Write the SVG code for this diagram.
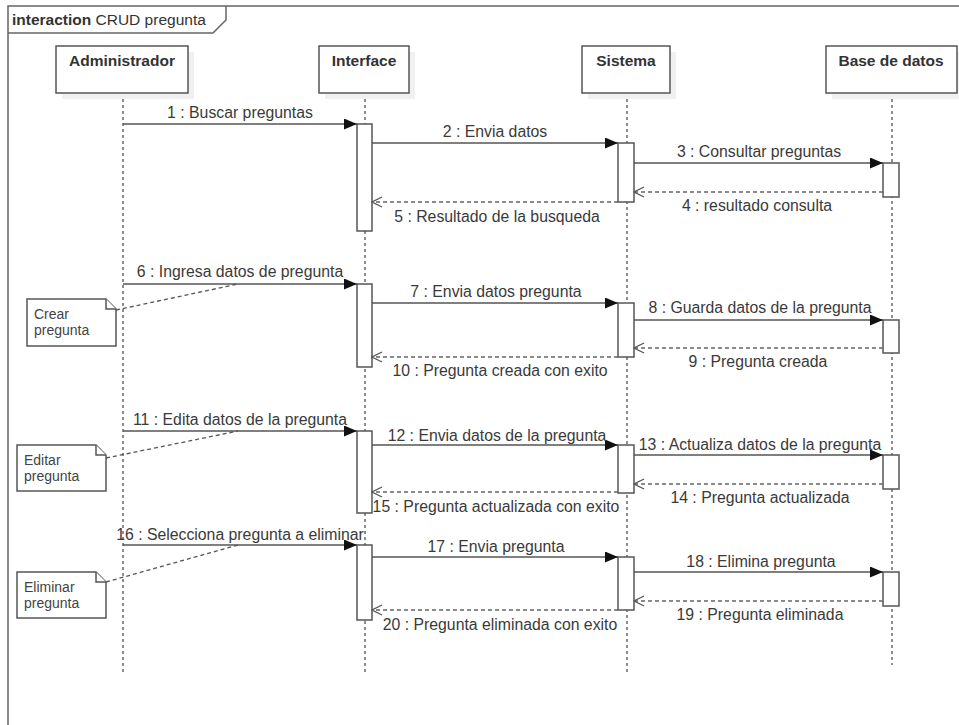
<svg xmlns="http://www.w3.org/2000/svg" width="959" height="725" viewBox="0 0 959 725">
<defs>
<style>
.frame{fill:none;stroke:#666;stroke-width:1.5}
.hdr{fill:#fff;stroke:#555;stroke-width:1.5}
.shadow{fill:#f0f0f0;stroke:none}
.life{stroke:#444;stroke-width:1.2;stroke-dasharray:3,3;fill:none}
.act{fill:#fff;stroke:#555;stroke-width:1.5}
.msg{stroke:#555;stroke-width:1.5;fill:none}
.ret{stroke:#666;stroke-width:1.3;fill:none;stroke-dasharray:4,3}
.anchor{stroke:#555;stroke-width:1.3;fill:none;stroke-dasharray:4,3}
.note{fill:#fff;stroke:#555;stroke-width:1.5}
text{font-family:"Liberation Sans",Arial,sans-serif;fill:#333}
.name{font-size:15.5px;font-weight:bold;text-anchor:middle}
.lbl{font-size:15.8px;text-anchor:middle;fill:#3a3a3a}
.nt{font-size:14px;fill:#444}
.title{font-size:15.5px}
</style>
<marker id="fill" markerUnits="userSpaceOnUse" markerWidth="13" markerHeight="11" refX="13" refY="5.5" orient="auto">
<path d="M0,0 L13,5.5 L0,11 z" fill="#111" stroke="none"/>
</marker>
<marker id="open" markerUnits="userSpaceOnUse" markerWidth="12" markerHeight="12" refX="11" refY="6" orient="auto">
<path d="M1,1 L11,6 L1,11" fill="none" stroke="#555" stroke-width="1.3" stroke-dasharray="none"/>
</marker>
</defs>
<rect width="959" height="725" fill="#fff"/>
<g id="frame">
<rect class="frame" x="8" y="6" width="970" height="740"/>
<path class="frame" d="M8,33 H213 L226,20 V6"/>
<text class="title" x="12" y="25"><tspan font-weight="bold">interaction</tspan> CRUD pregunta</text>
</g>
<g id="lifelines">
<path class="life" d="M123,93 V675"/>
<path class="life" d="M365,93 V675"/>
<path class="life" d="M627,93 V675"/>
<path class="life" d="M892,93 V665"/>
</g>
<g id="administrador">
<rect class="shadow" x="62" y="52" width="132" height="47"/>
<rect class="hdr" x="56" y="46" width="132" height="47"/>
<text class="name" x="122" y="66">Administrador</text>
</g>
<g id="interface">
<rect class="shadow" x="325" y="52" width="90" height="47"/>
<rect class="hdr" x="319" y="46" width="90" height="47"/>
<text class="name" x="364" y="66">Interface</text>
</g>
<g id="sistema">
<rect class="shadow" x="588" y="52" width="88" height="47"/>
<rect class="hdr" x="582" y="46" width="88" height="47"/>
<text class="name" x="626" y="66">Sistema</text>
</g>
<g id="base-de-datos">
<rect class="shadow" x="832" y="52" width="131" height="47"/>
<rect class="hdr" x="826" y="46" width="131" height="47"/>
<text class="name" x="891" y="66">Base de datos</text>
</g>
<g id="activations">
<rect class="act" x="357" y="124" width="15" height="107"/>
<rect class="act" x="618" y="143" width="16" height="59"/>
<rect class="act" x="883" y="163" width="16" height="34"/>
<rect class="act" x="357" y="284" width="15" height="83"/>
<rect class="act" x="618" y="303" width="16" height="54"/>
<rect class="act" x="883" y="320" width="16" height="33"/>
<rect class="act" x="357" y="431" width="15" height="82"/>
<rect class="act" x="618" y="445" width="16" height="48"/>
<rect class="act" x="883" y="455" width="16" height="34"/>
<rect class="act" x="357" y="545" width="15" height="75"/>
<rect class="act" x="618" y="557" width="16" height="53"/>
<rect class="act" x="883" y="572" width="16" height="34"/>
</g>
<g id="note-crear">
<path class="note" d="M27,299 H106 L116,309 V346 H27 Z"/>
<path class="note" d="M106,299 V309 H116" fill="none"/>
<text class="nt" x="34" y="319">Crear</text>
<text class="nt" x="34" y="335">pregunta</text>
</g>
<g id="note-editar">
<path class="note" d="M17,445 H96 L106,455 V491 H17 Z"/>
<path class="note" d="M96,445 V455 H106" fill="none"/>
<text class="nt" x="24" y="465">Editar</text>
<text class="nt" x="24" y="481">pregunta</text>
</g>
<g id="note-eliminar">
<path class="note" d="M17,572 H96 L106,582 V618 H17 Z"/>
<path class="note" d="M96,572 V582 H106" fill="none"/>
<text class="nt" x="24" y="592">Eliminar</text>
<text class="nt" x="24" y="608">pregunta</text>
</g>
<g id="connectors">
<path class="anchor" d="M116,310 L238,284"/>
<path class="anchor" d="M106,458 L238,431"/>
<path class="anchor" d="M106,582 L238,545"/>

<path class="msg" d="M123,124 H357" marker-end="url(#fill)"/>
<path class="msg" d="M372,143 H618" marker-end="url(#fill)"/>
<path class="msg" d="M634,163 H883" marker-end="url(#fill)"/>
<path class="ret" d="M883,192 H634" marker-end="url(#open)"/>
<path class="ret" d="M618,202 H372" marker-end="url(#open)"/>

<path class="msg" d="M123,284 H357" marker-end="url(#fill)"/>
<path class="msg" d="M372,303 H618" marker-end="url(#fill)"/>
<path class="msg" d="M634,320 H883" marker-end="url(#fill)"/>
<path class="ret" d="M883,348 H634" marker-end="url(#open)"/>
<path class="ret" d="M618,357 H372" marker-end="url(#open)"/>

<path class="msg" d="M123,431 H357" marker-end="url(#fill)"/>
<path class="msg" d="M372,445 H618" marker-end="url(#fill)"/>
<path class="msg" d="M634,455 H883" marker-end="url(#fill)"/>
<path class="ret" d="M883,484 H634" marker-end="url(#open)"/>
<path class="ret" d="M618,492 H372" marker-end="url(#open)"/>

<path class="msg" d="M123,545 H357" marker-end="url(#fill)"/>
<path class="msg" d="M372,557 H618" marker-end="url(#fill)"/>
<path class="msg" d="M634,572 H883" marker-end="url(#fill)"/>
<path class="ret" d="M883,601 H634" marker-end="url(#open)"/>
<path class="ret" d="M618,610 H372" marker-end="url(#open)"/>
</g>
<g id="labels">
<text class="lbl" x="240" y="118">1 : Buscar preguntas</text>
<text class="lbl" x="495" y="137">2 : Envia datos</text>
<text class="lbl" x="759" y="157">3 : Consultar preguntas</text>
<text class="lbl" x="757" y="211">4 : resultado consulta</text>
<text class="lbl" x="497" y="222">5 : Resultado de la busqueda</text>

<text class="lbl" x="240" y="277">6 : Ingresa datos de pregunta</text>
<text class="lbl" x="496" y="297">7 : Envia datos pregunta</text>
<text class="lbl" x="760" y="313">8 : Guarda datos de la pregunta</text>
<text class="lbl" x="758" y="367">9 : Pregunta creada</text>
<text class="lbl" x="500" y="376">10 : Pregunta creada con exito</text>

<text class="lbl" x="240" y="425">11 : Edita datos de la pregunta</text>
<text class="lbl" x="497" y="441">12 : Envia datos de la pregunta</text>
<text class="lbl" x="760" y="450">13 : Actualiza datos de la pregunta</text>
<text class="lbl" x="760" y="503">14 : Pregunta actualizada</text>
<text class="lbl" x="496" y="512">15 : Pregunta actualizada con exito</text>

<text class="lbl" x="240" y="540">16 : Selecciona pregunta a eliminar</text>
<text class="lbl" x="496" y="552">17 : Envia pregunta</text>
<text class="lbl" x="761" y="567">18 : Elimina pregunta</text>
<text class="lbl" x="760" y="620">19 : Pregunta eliminada</text>
<text class="lbl" x="500" y="630">20 : Pregunta eliminada con exito</text>
</g>
</svg>
